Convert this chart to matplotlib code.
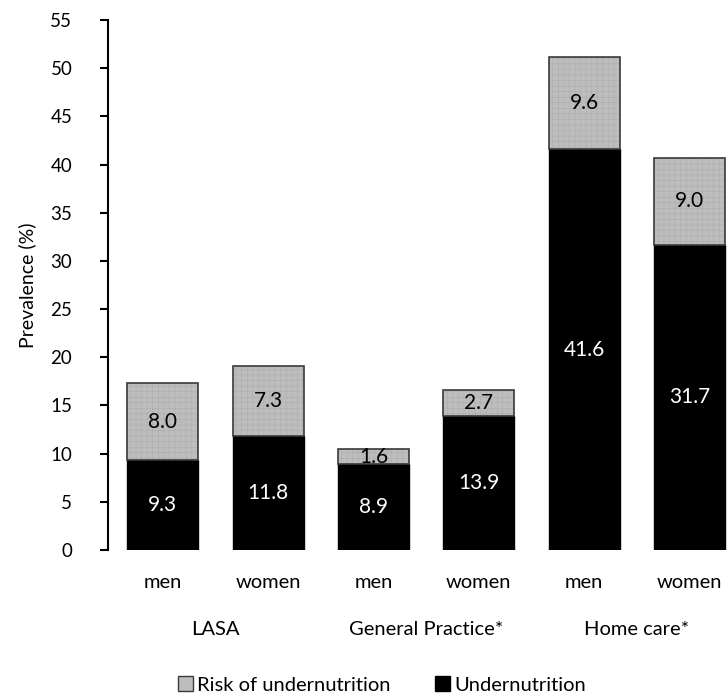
import matplotlib
matplotlib.use("Agg")
import matplotlib.pyplot as plt
from matplotlib.patches import Patch

groups = ["LASA", "General Practice*", "Home care*"]
sexes = ["men", "women", "men", "women", "men", "women"]
undernutrition = [9.3, 11.8, 8.9, 13.9, 41.6, 31.7]
risk = [8.0, 7.3, 1.6, 2.7, 9.6, 9.0]
yticks = list(range(0, 56, 5))

plt.rcParams["font.family"] = ["Lato", "DejaVu Sans"]
plt.rcParams["hatch.linewidth"] = 0.4

fig = plt.figure(figsize=(7.28, 6.97), dpi=100)
ax = fig.add_axes([0.148, 0.2109, 0.852, 0.7604])

x = list(range(len(sexes)))
width = 0.674
grey = "#bdbdbd"

ax.bar(x, undernutrition, width, color="black", edgecolor="black", linewidth=1.0)
# textured grey fill, then a separate dark outline on top
ax.bar(x, risk, width, bottom=undernutrition, color=grey,
       edgecolor="#adadad", linewidth=0, hatch="+++")
risk_bars = ax.bar(x, risk, width, bottom=undernutrition, fill=False,
                   edgecolor="#3a3a3a", linewidth=1.2)

for i, (u, r) in enumerate(zip(undernutrition, risk)):
    ax.text(i, u / 2, f"{u:.1f}", ha="center", va="center", color="white", fontsize=15)
    t2 = ax.text(i, u + r / 2, f"{r:.1f}", ha="center", va="center", color="black", fontsize=15)
    t2.set_clip_path(risk_bars[i])

ax.set_ylim(0, 55)
ax.set_xlim(-0.522, 5.366)
ax.set_yticks(yticks)
ax.set_yticklabels([str(v) for v in yticks], fontsize=13.5)
ax.tick_params(axis="y", direction="out", length=5.5, width=1.5, pad=20)
ax.set_xticks([])
for s in ["top", "right", "bottom"]:
    ax.spines[s].set_visible(False)
ax.spines["left"].set_linewidth(1.5)
ax.set_ylabel("Prevalence (%)", fontsize=14, labelpad=10)

for i, s in enumerate(sexes):
    ax.text(i, -3.4, s, ha="center", va="center", fontsize=14.5, clip_on=False)
for g, name in enumerate(groups):
    ax.text(2 * g + 0.5, -8.3, name, ha="center", va="center", fontsize=14.5, clip_on=False)

handles = [Patch(facecolor=grey, edgecolor="#3a3a3a", label="Risk of undernutrition"),
           Patch(facecolor="black", edgecolor="black", label="Undernutrition")]
fig.legend(handles=handles, loc="center", bbox_to_anchor=(382 / 728, 1 - 685 / 697), ncol=2,
           frameon=False, fontsize=14.5, handlelength=0.75, handleheight=0.75, handletextpad=0.2,
           columnspacing=2.2)

fig.savefig("out.png", dpi=100)
